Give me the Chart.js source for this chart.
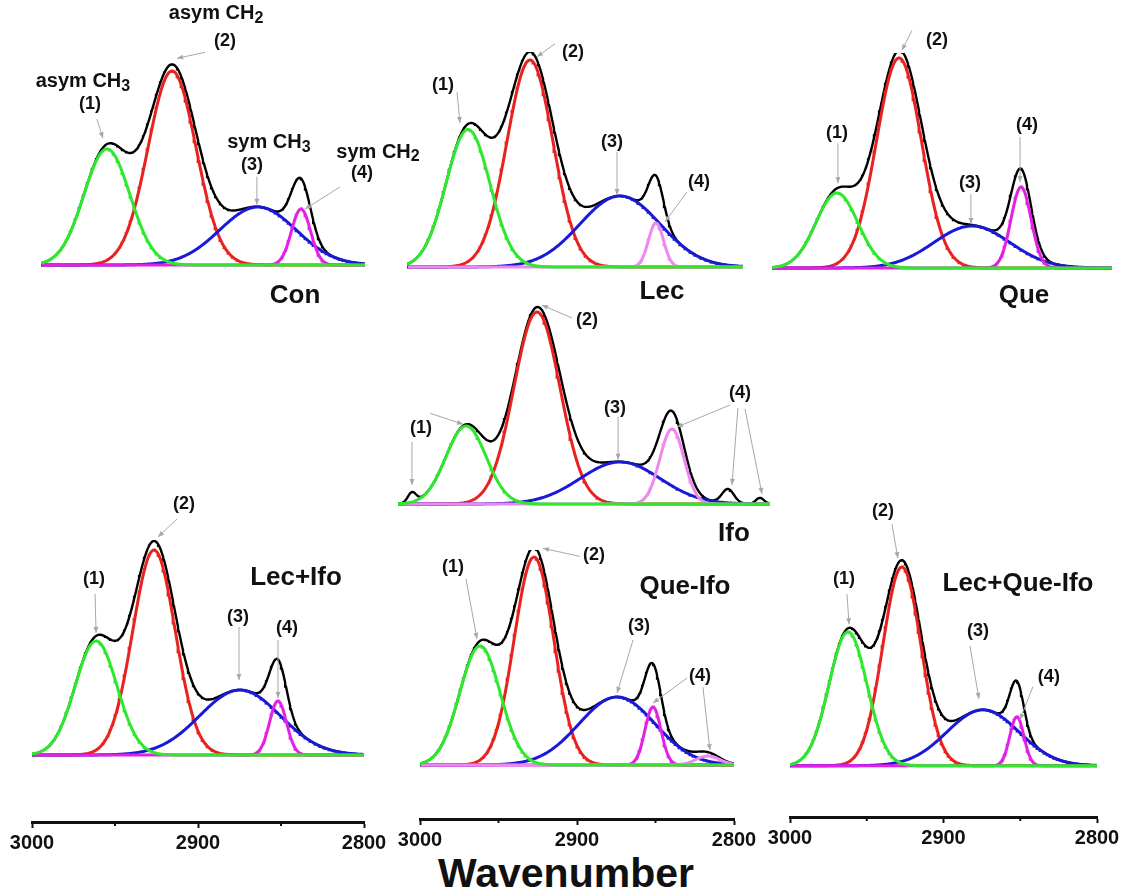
<!DOCTYPE html>
<html>
<head>
<meta charset="utf-8">
<script src="https://cdn.jsdelivr.net/npm/chart.js@4.4.1/dist/chart.umd.min.js"></script>
<style>
  html, body { margin: 0; padding: 0; background: #fff; }
  body { width: 1125px; height: 896px; overflow: hidden; position: relative; }
  canvas { position: absolute; }
  #xlabel { position: absolute; left: 566px; top: 873px; transform: translate(-50%, -50%);
            font: bold 41px "Liberation Sans", Arial, sans-serif; line-height: 1; color: #111; white-space: nowrap; }
</style>
</head>
<body>
<div id="xlabel">Wavenumber</div>
<script>
// fitted band parameters: centre (cm-1), height (a.u.), width sigma (cm-1)
// bands: (1) asym CH3, (2) asym CH2, (3) sym CH3, (4) sym CH2
const conCenters = [2959.3, 2919.1, 2866.1, 2839.5];
const conHeights = [1.16, 1.94, 0.58, 0.56];
const conWidths  = [14.2, 14.8, 23.5, 5.9];

const lecCenters = [2963.7, 2926.8, 2873.2, 2851.8];
const lecHeights = [1.375, 2.07, 0.71, 0.44];
const lecWidths  = [13.1, 13.7, 23.8, 4.5];

const queCenters = [2961.8, 2925.3, 2882.4, 2853.5];
const queHeights = [0.75, 2.10, 0.42, 0.81];
const queWidths  = [12.3, 13.2, 22.4, 5.9];

const ifoCenters = [2963.4, 2925.3, 2880.6, 2852.7];
const ifoHeights = [0.78, 1.92, 0.42, 0.75];
const ifoWidths  = [10.8, 12.4, 21.5, 6.5];
// small shoulders that show only in the measured (black) envelope of Ifo
const ifoExtraCenters = [2992.5, 2822.6, 2805.4];
const ifoExtraHeights = [0.10, 0.14, 0.06];
const ifoExtraWidths  = [2.2, 3.2, 2.2];

const lecIfoCenters = [2961.4, 2926.5, 2874.7, 2851.8];
const lecIfoHeights = [1.14, 2.05, 0.65, 0.54];
const lecIfoWidths  = [12.6, 12.8, 24.2, 5.1];

const queIfoCenters = [2961.8, 2927.4, 2874.5, 2851.6, 2816.6];
const queIfoHeights = [1.19, 2.08, 0.68, 0.58, 0.09];
const queIfoWidths  = [12.9, 12.6, 24.2, 5.1, 7.6];

const lecQueIfoCenters = [2962.2, 2927.1, 2874.3, 2852.2];
const lecQueIfoHeights = [1.34, 1.99, 0.56, 0.49];
const lecQueIfoWidths  = [12.4, 12.4, 23.4, 4.6];

const axisTicks = [3000, 2900, 2800];
const minorTicks = [2950, 2850];

const GREEN = '#2ee82e', RED = '#e8231f', BLUE = '#1a1ad6', MAGENTA = '#e520e5', VIOLET = '#ee88ee';
const FONT = '"Liberation Sans", Arial, sans-serif';

// sampling grid along the wavenumber axis
const xs = [];
for (let w = 2800; w <= 3000; w += 0.5) xs.push(w);

function gauss(c, h, s, x) { return h * Math.exp(-((x - c) * (x - c)) / (2 * s * s)); }

// panel layout (page pixels) and annotation offsets relative to the peak they point at
const panels = [
  { title: 'Con', tx: 295, ty: 296, left: 41, right: 365, base: 265,
    centers: conCenters, heights: conHeights, widths: conWidths, colors: [GREEN, RED, BLUE, MAGENTA],
    notes: [
      { peak: 0, on: 'sum', lines: [['asym CH_3', -24, -63, 20], ['(1)', -17, -40]], arrows: [[-10, -25, -4, -6]] },
      { peak: 1, on: 'sum', lines: [['asym CH_2', 44, -51, 20], ['(2)', 53, -23]], arrows: [[33, -12, 5, -6]] },
      { peak: 2, on: 'sum', lines: [['sym CH_3', 11, -64, 20], ['(3)', -6, -42]], arrows: [[-1, -30, -1, -2]] },
      { peak: 3, on: 'comp', lines: [['sym CH_2', 77, -57, 20], ['(4)', 61, -36]], arrows: [[39, -22, 4, 0]] }
    ] },
  { title: 'Lec', tx: 662, ty: 292, left: 407, right: 743, base: 266.7,
    centers: lecCenters, heights: lecHeights, widths: lecWidths, colors: [GREEN, RED, BLUE, VIOLET],
    notes: [
      { peak: 0, on: 'sum', lines: [['(1)', -25, -39]], arrows: [[-11, -32, -8, -1]] },
      { peak: 1, on: 'sum', lines: [['(2)', 43, 0]], arrows: [[25, -8, 7, 5]] },
      { peak: 2, on: 'sum', lines: [['(3)', -8, -54]], arrows: [[-3, -44, -3, -1]] },
      { peak: 3, on: 'comp', lines: [['(4)', 43, -41]], arrows: [[31, -31, 9, -1]] }
    ] },
  { title: 'Que', tx: 1024, ty: 296, left: 772, right: 1112, base: 268.3,
    centers: queCenters, heights: queHeights, widths: queWidths, colors: [GREEN, RED, BLUE, MAGENTA],
    notes: [
      { peak: 0, on: 'sum', lines: [['(1)', 0, -55]], arrows: [[1, -45, 1, -5]] },
      { peak: 1, on: 'sum', lines: [['(2)', 38, -10]], arrows: [[13, -20, 3, 0]] },
      { peak: 2, on: 'sum', lines: [['(3)', -2, -42]], arrows: [[-1, -31, -1, -1]] },
      { peak: 3, on: 'comp', lines: [['(4)', 6, -62]], arrows: [[-1, -50, -1, -5]] }
    ] },
  { title: 'Ifo', tx: 734, ty: 534, left: 398, right: 770, base: 504.3,
    centers: ifoCenters, heights: ifoHeights, widths: ifoWidths, colors: [GREEN, RED, BLUE, VIOLET],
    extraCenters: ifoExtraCenters, extraHeights: ifoExtraHeights, extraWidths: ifoExtraWidths,
    notes: [
      { peak: 0, on: 'sum', lines: [['(1)', -45, 4]], arrows: [[-36, -11, -3, 0]] },
      { extra: 0, lines: [], arrows: [[0, -50, 0, -7]] },
      { peak: 1, on: 'sum', lines: [['(2)', 50, 13]], arrows: [[35, 11, 5, -2]] },
      { peak: 2, on: 'sum', lines: [['(3)', -5, -54]], arrows: [[-2, -45, -2, -2]] },
      { peak: 3, on: 'comp', lines: [['(4)', 68, -36]], arrows: [[58, -24, 5, -2]] },
      { extra: 1, lines: [], arrows: [[10, -81, 4, -4]] },
      { extra: 2, lines: [], arrows: [[-15, -89, 2, -4]] }
    ] },
  { title: 'Lec+Ifo', tx: 296, ty: 578, left: 32, right: 364, base: 755, axisY: 822,
    centers: lecIfoCenters, heights: lecIfoHeights, widths: lecIfoWidths, colors: [GREEN, RED, BLUE, MAGENTA],
    notes: [
      { peak: 0, on: 'sum', lines: [['(1)', -2, -57]], arrows: [[-1, -42, 0, -3]] },
      { peak: 1, on: 'sum', lines: [['(2)', 30, -37]], arrows: [[23, -22, 4, -4]] },
      { peak: 2, on: 'sum', lines: [['(3)', -2, -73]], arrows: [[-1, -63, -1, -10]] },
      { peak: 3, on: 'comp', lines: [['(4)', 9, -73]], arrows: [[0, -61, 0, -3]] }
    ] },
  { title: 'Que-Ifo', tx: 685, ty: 587, left: 420, right: 734, base: 765, axisY: 819,
    centers: queIfoCenters, heights: queIfoHeights, widths: queIfoWidths, colors: [GREEN, RED, BLUE, MAGENTA, VIOLET],
    notes: [
      { peak: 0, on: 'sum', lines: [['(1)', -27, -74]], arrows: [[-14, -62, -3, -2]] },
      { peak: 1, on: 'sum', lines: [['(2)', 60, 8]], arrows: [[46, 9, 9, 1]] },
      { peak: 2, on: 'sum', lines: [['(3)', 22, -71]], arrows: [[16, -57, 0, -4]] },
      { peak: 3, on: 'comp', lines: [['(4)', 47, -31]], arrows: [[34, -29, 0, -4]] },
      { peak: 4, on: 'sum', lines: [], arrows: [[-5, -65, 2, -2]] }
    ] },
  { title: 'Lec+Que-Ifo', tx: 1018, ty: 584, left: 790, right: 1097, base: 765.7, axisY: 817,
    centers: lecQueIfoCenters, heights: lecQueIfoHeights, widths: lecQueIfoWidths, colors: [GREEN, RED, BLUE, MAGENTA],
    notes: [
      { peak: 0, on: 'sum', lines: [['(1)', -4, -49]], arrows: [[-1, -34, 1, -4]] },
      { peak: 1, on: 'sum', lines: [['(2)', -19, -49]], arrows: [[-10, -36, -4, -2]] },
      { peak: 2, on: 'sum', lines: [['(3)', -5, -79]], arrows: [[-13, -64, -4, -11]] },
      { peak: 3, on: 'comp', lines: [['(4)', 32, -40]], arrows: [[16, -30, 3, 3]] }
    ] }
];

function sumAt(p, x) {
  let y = 0;
  p.centers.forEach((c, i) => { y += gauss(c, p.heights[i], p.widths[i], x); });
  (p.extraCenters || []).forEach((c, i) => { y += gauss(c, p.extraHeights[i], p.extraWidths[i], x); });
  return y;
}

function drawLabel(ctx, text, cx, cy, size) {
  const parts = text.split('_');
  ctx.fillStyle = '#111';
  ctx.textBaseline = 'middle';
  ctx.font = 'bold ' + size + 'px ' + FONT;
  const w1 = ctx.measureText(parts[0]).width;
  let w2 = 0;
  const sub = Math.round(size * 0.8);
  if (parts[1]) { ctx.font = 'bold ' + sub + 'px ' + FONT; w2 = ctx.measureText(parts[1]).width; }
  const x0 = cx - (w1 + w2) / 2;
  ctx.textAlign = 'left';
  ctx.font = 'bold ' + size + 'px ' + FONT;
  ctx.fillText(parts[0], x0, cy);
  if (parts[1]) { ctx.font = 'bold ' + sub + 'px ' + FONT; ctx.fillText(parts[1], x0 + w1, cy + 5); }
}

function arrow(ctx, x1, y1, x2, y2) {
  ctx.strokeStyle = '#a8a8a8';
  ctx.fillStyle = '#a8a8a8';
  ctx.lineWidth = 1;
  ctx.beginPath(); ctx.moveTo(x1, y1); ctx.lineTo(x2, y2); ctx.stroke();
  const a = Math.atan2(y2 - y1, x2 - x1), L = 6, W = 2.5;
  ctx.beginPath();
  ctx.moveTo(x2, y2);
  ctx.lineTo(x2 - L * Math.cos(a) + W * Math.sin(a), y2 - L * Math.sin(a) - W * Math.cos(a));
  ctx.lineTo(x2 - L * Math.cos(a) - W * Math.sin(a), y2 - L * Math.sin(a) + W * Math.cos(a));
  ctx.closePath(); ctx.fill();
}

function notesPlugin(p) {
  return {
    id: 'notes',
    afterDraw(chart) {
      const ctx = chart.ctx, xS = chart.scales.x, yS = chart.scales.y;
      ctx.save();
      p.notes.forEach(n => {
        let c, v;
        if (n.extra !== undefined) { c = p.extraCenters[n.extra]; v = sumAt(p, c); }
        else { c = p.centers[n.peak]; v = n.on === 'comp' ? p.heights[n.peak] : sumAt(p, c); }
        const tx = xS.getPixelForValue(c), ty = yS.getPixelForValue(v);
        n.arrows.forEach(a => arrow(ctx, tx + a[0], ty + a[1], tx + a[2], ty + a[3]));
        n.lines.forEach(l => drawLabel(ctx, l[0], tx + l[1], ty + l[2], l[3] || 18));
      });
      drawLabel(ctx, p.title, p.tx - p.ox, p.ty - p.oy, 26);
      // minor ticks on the wavenumber axis
      if (p.axisY) {
        ctx.strokeStyle = '#111'; ctx.lineWidth = 2;
        minorTicks.forEach(m => {
          const x = xS.getPixelForValue(m);
          ctx.beginPath(); ctx.moveTo(x, xS.top); ctx.lineTo(x, xS.top + 4); ctx.stroke();
        });
      }
      ctx.restore();
    }
  };
}

function mount(p) {
  const padL = 60, padR = 80, padT = 80;
  const top = p.base - 215;
  const areaBottom = p.axisY || p.base + 5;
  const axisH = p.axisY ? 40 : 0;
  const padB = p.axisY ? 4 : 45;
  const cv = document.createElement('canvas');
  cv.width = p.right - p.left + padL + padR;
  cv.height = padT + (areaBottom - top) + axisH + padB;
  p.ox = p.left - padL;
  p.oy = top - padT;
  cv.style.left = p.ox + 'px';
  cv.style.top = p.oy + 'px';
  document.body.appendChild(cv);

  const comps = p.centers.map((c, i) => xs.map(x => ({ x, y: gauss(c, p.heights[i], p.widths[i], x) })));
  const env = xs.map(x => ({ x, y: sumAt(p, x) }));
  const line = (data, color, w) => ({ data, borderColor: color, borderWidth: w, pointRadius: 0, tension: 0, fill: false });
  // first dataset is drawn on top; black envelope goes last so it sits underneath
  const order = [0, 4, 3, 2, 1].filter(i => i < comps.length);
  const datasets = order.map(i => line(comps[i], p.colors[i], 3));
  datasets.push(line(env, '#000', 2.4));

  const xScale = {
    type: 'linear', min: 2800, max: 3000, reverse: true, display: !!p.axisY,
    afterBuildTicks: s => { s.ticks = axisTicks.map(v => ({ value: v })); },
    ticks: { callback: v => String(v), color: '#111', padding: 3, maxRotation: 0, autoSkip: false,
             font: { family: FONT, size: 20, weight: 'bold' } },
    grid: { drawOnChartArea: false, drawTicks: true, tickLength: 6, tickWidth: 2, tickColor: '#111' },
    border: { display: true, width: 3, color: '#111' }
  };
  if (p.axisY) xScale.afterFit = s => { s.height = axisH; };

  new Chart(cv, {
    type: 'line',
    data: { datasets },
    options: {
      responsive: false,
      animation: false,
      layout: { padding: { left: padL, right: padR, top: padT, bottom: padB } },
      plugins: { legend: { display: false }, tooltip: { enabled: false } },
      scales: {
        x: xScale,
        y: { display: false, min: -(areaBottom - p.base) / 100, max: 2.15 }
      }
    },
    plugins: [notesPlugin(p)]
  });
}

panels.forEach(mount);
</script>
</body>
</html>
